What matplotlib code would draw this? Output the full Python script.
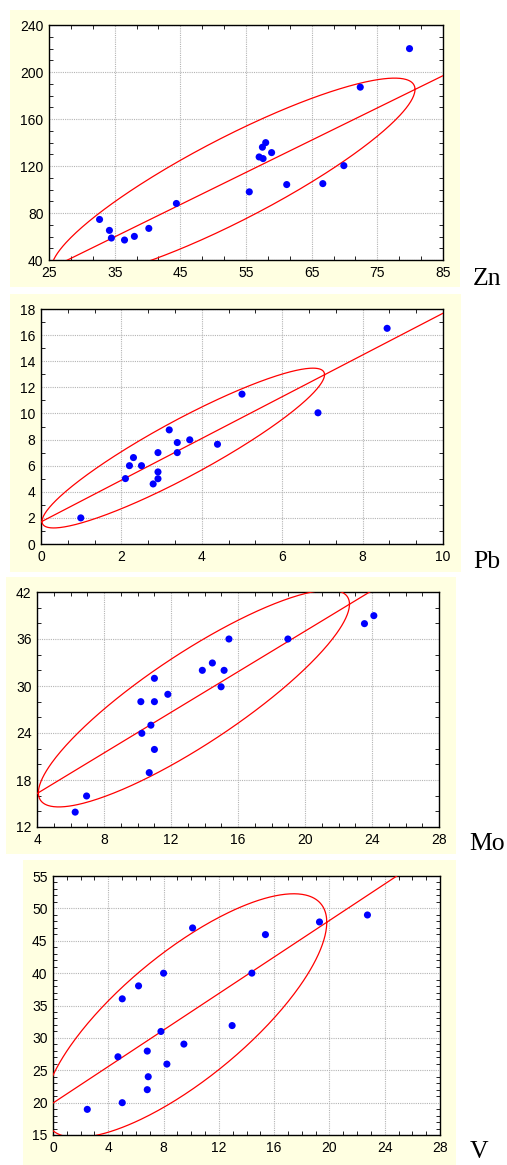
import numpy as np
import matplotlib
matplotlib.use('Agg')
import matplotlib.pyplot as plt
from matplotlib.patches import Rectangle
from matplotlib.ticker import AutoMinorLocator

# Data
zn_x = [32.7, 34.2, 34.5, 36.5, 38.0, 40.2, 44.4, 55.5, 57.0, 57.6, 57.5, 58.0, 58.9, 61.2, 66.7, 69.9, 72.4, 79.9]
zn_y = [74.5, 65.2, 58.7, 57.0, 60.1, 66.9, 88.1, 98.0, 127.7, 126.3, 136.0, 139.9, 131.4, 104.2, 105.0, 120.3, 187.1, 219.9]

pb_x = [0.99, 2.10, 2.20, 2.30, 2.50, 2.79, 2.91, 2.91, 2.91, 3.19, 3.39, 3.39, 3.70, 4.39, 5.00, 6.89, 8.61]
pb_y = [2.0, 5.01, 6.0, 6.62, 6.0, 4.6, 5.0, 5.52, 7.0, 8.74, 7.77, 7.0, 7.98, 7.64, 11.48, 10.05, 16.52]

mo_x = [6.28, 6.96, 10.70, 11.01, 10.26, 10.80, 10.20, 11.01, 11.81, 11.01, 14.99, 13.87, 14.47, 15.17, 15.46, 18.98, 23.55, 24.11]
mo_y = [13.9, 15.96, 18.94, 21.9, 23.96, 25.0, 28.0, 28.0, 28.94, 30.98, 29.9, 32.0, 32.94, 32.0, 36.0, 36.0, 37.96, 38.98]

v_x = [2.48, 5.01, 6.82, 6.89, 4.70, 6.82, 8.24, 7.81, 9.47, 12.96, 5.01, 6.19, 8.00, 14.39, 10.10, 15.37, 19.28, 22.75]
v_y = [18.96, 19.99, 22.0, 24.0, 27.08, 27.96, 25.95, 30.99, 29.04, 31.9, 36.03, 38.03, 39.99, 40.0, 46.98, 45.95, 47.9, 48.98]

names = ['Zn', 'Pb', 'Mo', 'V']
xs = [zn_x, pb_x, mo_x, v_x]
ys = [zn_y, pb_y, mo_y, v_y]

# tick values for each panel
zn_xticks = [25, 35, 45, 55, 65, 75, 85]
zn_yticks = [40, 80, 120, 160, 200, 240]
pb_xticks = [0, 2, 4, 6, 8, 10]
pb_yticks = [0, 2, 4, 6, 8, 10, 12, 14, 16, 18]
mo_xticks = [4, 8, 12, 16, 20, 24, 28]
mo_yticks = [12, 18, 24, 30, 36, 42]
v_xticks = [0, 4, 8, 12, 16, 20, 24, 28]
v_yticks = [15, 20, 25, 30, 35, 40, 45, 50, 55]
xticks = [zn_xticks, pb_xticks, mo_xticks, v_xticks]
yticks = [zn_yticks, pb_yticks, mo_yticks, v_yticks]
xminor = [3, 3, 4, 4]
yminor = [4, 2, 3, 5]

W, H = 507, 1165
# axes boxes in pixels: left, right, top, bottom
boxes = [(49, 443, 25, 260), (41, 443, 309, 544), (37, 439, 592, 827), (53, 440, 876, 1135)]
# yellow panels: left, right, top, bottom
panels = [(10, 460, 10, 287), (10, 461, 294, 572), (6, 456, 577, 854), (23, 456, 860, 1165)]
label_pos = [(473, 285), (473, 568), (469, 850), (470, 1158)]

yellow = '#FFFFE1'
k = 1.9  # ellipse size factor

fig = plt.figure(figsize=(W / 100, H / 100), dpi=100)
fig.patch.set_facecolor('white')

for i in range(4):
    l, r, t, b = panels[i]
    fig.add_artist(Rectangle((l / W, 1 - b / H), (r - l) / W, (b - t) / H,
                             transform=fig.transFigure, facecolor=yellow,
                             edgecolor='none', zorder=-5))

for i in range(4):
    x = np.array(xs[i])
    y = np.array(ys[i])
    l, r, t, b = boxes[i]
    ax = fig.add_axes([l / W, 1 - b / H, (r - l) / W, (b - t) / H])
    ax.set_zorder(2)
    ax.set_facecolor('white')

    xlim = (xticks[i][0], xticks[i][-1])
    ylim = (yticks[i][0], yticks[i][-1])

    # regression line across the full x range
    slope, icpt = np.polyfit(x, y, 1)
    lx = np.array(xlim)
    ax.plot(lx, slope * lx + icpt, color='red', lw=0.9, zorder=3)

    # normal ellipse from mean and covariance
    cov = np.cov(x, y)
    L = np.linalg.cholesky(cov)
    t_ = np.linspace(0, 2 * np.pi, 400)
    ell = L @ np.vstack([np.cos(t_), np.sin(t_)]) * k
    ax.plot(x.mean() + ell[0], y.mean() + ell[1], color='red', lw=0.9, zorder=3)

    ax.scatter(x, y, s=26, color='#0000FF', edgecolors='none', zorder=4, clip_on=False)

    ax.set_xlim(xlim)
    ax.set_ylim(ylim)
    ax.set_xticks(xticks[i])
    ax.set_yticks(yticks[i])
    ax.xaxis.set_minor_locator(AutoMinorLocator(xminor[i]))
    ax.yaxis.set_minor_locator(AutoMinorLocator(yminor[i]))
    ax.grid(True, which='major', color='#B4B4B4', lw=0.8, linestyle=(0, (1, 1)))
    ax.set_axisbelow(True)
    ax.tick_params(which='both', direction='in', top=True, right=True,
                   colors='black', labelsize=10)
    ax.tick_params(which='major', length=0, pad=4)
    ax.tick_params(which='minor', length=3, width=0.6)
    for lab in ax.get_xticklabels() + ax.get_yticklabels():
        lab.set_fontfamily('Liberation Sans')
    for s in ax.spines.values():
        s.set_color('black')
        s.set_linewidth(1.0)

    fig.text(label_pos[i][0] / W, 1 - label_pos[i][1] / H, names[i],
             fontsize=18.5, family='Liberation Serif', ha='left', va='baseline')

fig.savefig('out.png', dpi=100)
